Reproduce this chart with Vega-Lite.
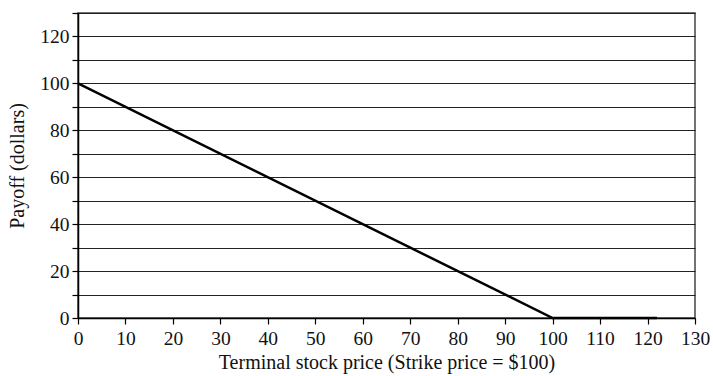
{
  "$schema": "https://vega.github.io/schema/vega-lite/v6.json",
  "width": 617,
  "height": 305,
  "autosize": {"type": "none"},
  "padding": {"left": 78, "top": 13, "right": 18, "bottom": 58},
  "background": "white",
  "config": {
    "view": {"stroke": "#444", "strokeWidth": 1.5},
    "font": "Liberation Serif",
    "axis": {
      "labelFont": "Liberation Serif",
      "titleFont": "Liberation Serif",
      "labelFontSize": 19.5,
      "titleFontSize": 20,
      "titleFontWeight": "normal",
      "labelColor": "#111",
      "titleColor": "#111",
      "domainColor": "#000",
      "domainWidth": 1.5,
      "tickColor": "#000",
      "tickWidth": 1.2,
      "tickSize": 6
    }
  },
  "data": {
    "values": [
      {"price": 0, "payoff": 100},
      {"price": 100, "payoff": 0},
      {"price": 122, "payoff": 0}
    ]
  },
  "mark": {"type": "line", "color": "#000", "strokeWidth": 2.5, "clip": false},
  "encoding": {
    "x": {
      "field": "price",
      "type": "quantitative",
      "scale": {"domain": [0, 130], "nice": false},
      "axis": {
        "values": [0, 10, 20, 30, 40, 50, 60, 70, 80, 90, 100, 110, 120, 130],
        "grid": false,
        "title": "Terminal stock price (Strike price = $100)",
        "labelPadding": 5,
        "titlePadding": 5,
        "labelFlush": false
      }
    },
    "y": {
      "field": "payoff",
      "type": "quantitative",
      "scale": {"domain": [0, 130], "nice": false},
      "axis": {
        "values": [0, 10, 20, 30, 40, 50, 60, 70, 80, 90, 100, 110, 120, 130],
        "labelExpr": "datum.value % 20 == 0 && datum.value < 130 ? datum.label : ''",
        "grid": true,
        "gridColor": "#222",
        "gridWidth": 1.2,
        "gridOpacity": 1,
        "title": "Payoff (dollars)",
        "labelPadding": 3,
        "titlePadding": 12,
        "labelFlush": false
      }
    }
  }
}
